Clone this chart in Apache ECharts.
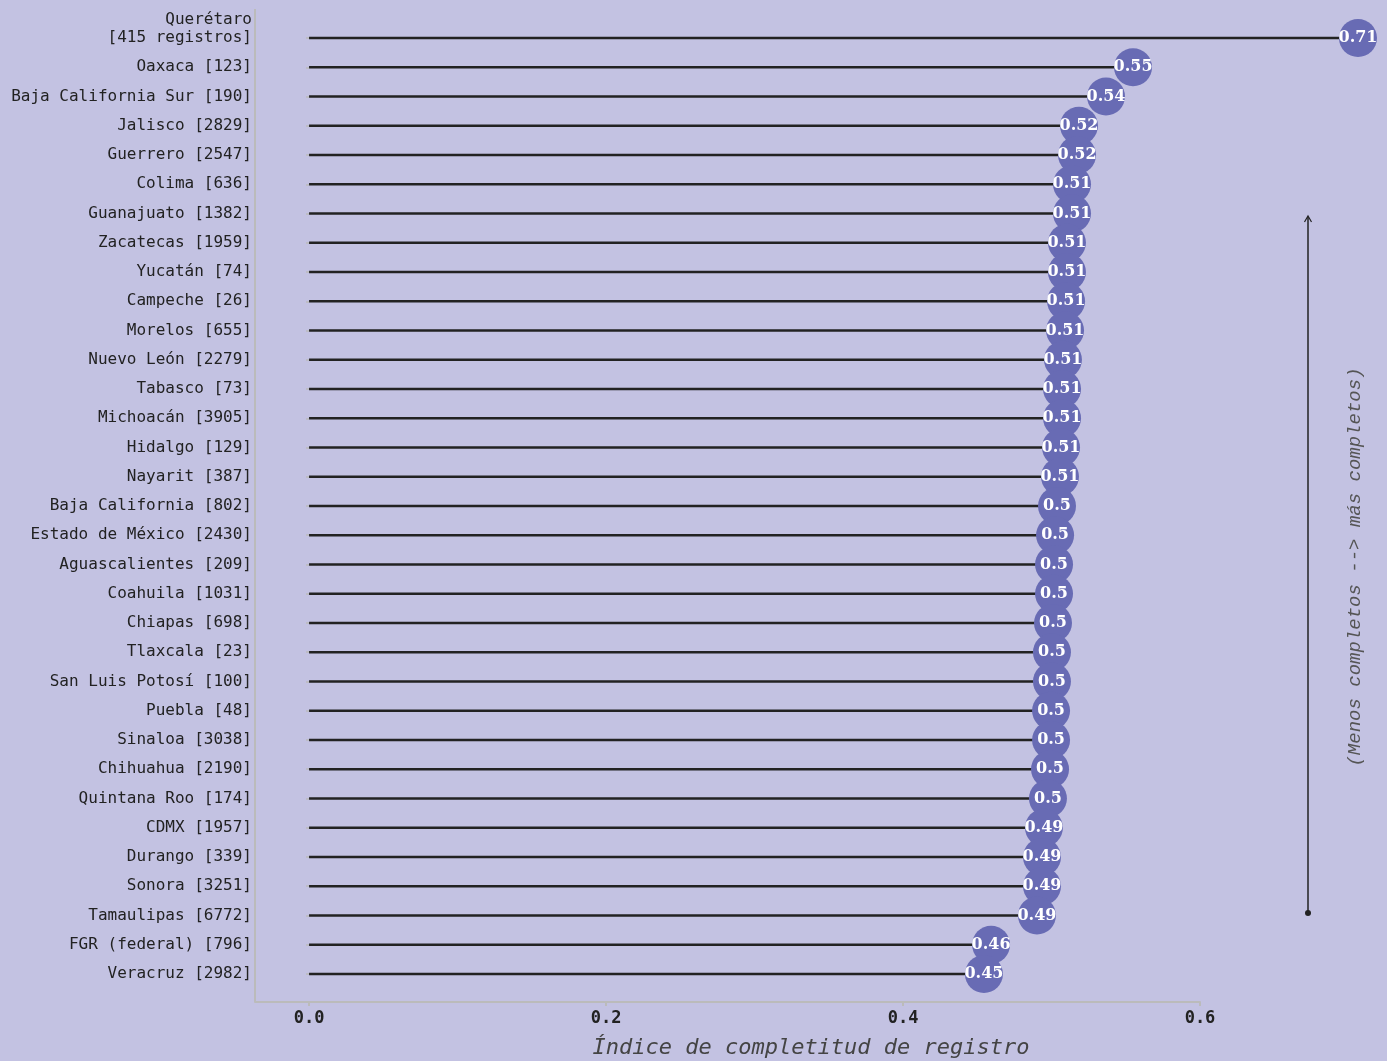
<!DOCTYPE html>
<html>
<head>
<meta charset="utf-8">
<script src="https://cdn.jsdelivr.net/npm/echarts@6/dist/echarts.min.js"></script>
<style>
html,body{margin:0;padding:0;background:#c3c2e2;}
#chart{width:1387px;height:1061px;}
</style>
</head>
<body>
<div id="chart"></div>
<script>
const categories = [
  'Querétaro\n[415 registros]', 'Oaxaca [123]', 'Baja California Sur [190]', 'Jalisco [2829]',
  'Guerrero [2547]', 'Colima [636]', 'Guanajuato [1382]', 'Zacatecas [1959]', 'Yucatán [74]',
  'Campeche [26]', 'Morelos [655]', 'Nuevo León [2279]', 'Tabasco [73]', 'Michoacán [3905]',
  'Hidalgo [129]', 'Nayarit [387]', 'Baja California [802]', 'Estado de México [2430]',
  'Aguascalientes [209]', 'Coahuila [1031]', 'Chiapas [698]', 'Tlaxcala [23]',
  'San Luis Potosí [100]', 'Puebla [48]', 'Sinaloa [3038]', 'Chihuahua [2190]',
  'Quintana Roo [174]', 'CDMX [1957]', 'Durango [339]', 'Sonora [3251]', 'Tamaulipas [6772]',
  'FGR (federal) [796]', 'Veracruz [2982]'
];
const values = [
  0.7064, 0.5549, 0.5367, 0.5185, 0.5172, 0.5138, 0.5138, 0.5104, 0.5104, 0.5098, 0.5091,
  0.5077, 0.5071, 0.5071, 0.5064, 0.5057, 0.5037, 0.5024, 0.5017, 0.5017, 0.5010, 0.5003,
  0.5003, 0.4997, 0.4997, 0.4990, 0.4976, 0.4949, 0.4936, 0.4936, 0.4902, 0.4593, 0.4545
];
const xTicks = [0, 0.2, 0.4, 0.6];
const xTitle = 'Índice de completitud de registro';
const sideNote = '(Menos completos --> más completos)';

const chart = echarts.init(document.getElementById('chart'));
const mono = '"DejaVu Sans Mono", "Liberation Mono", monospace';

chart.setOption({
  backgroundColor: '#c3c2e2',
  animation: false,
  grid: { left: 255, right: 187, top: 23.4, bottom: 72.4, containLabel: false },
  xAxis: {
    type: 'value',
    min: -0.0364,
    max: 0.6,
    offset: 13.4,
    splitLine: { show: false },
    axisLine: { show: true, lineStyle: { color: '#bbbbbb', width: 2 } },
    axisTick: { show: true, customValues: xTicks, length: 4, lineStyle: { color: '#bbbbbb', width: 2 } },
    axisLabel: {
      customValues: xTicks,
      formatter: v => Number(v).toFixed(1),
      fontFamily: mono, fontSize: 17, fontWeight: 'bold', color: '#222', margin: 8
    }
  },
  yAxis: {
    type: 'category',
    inverse: true,
    data: categories,
    axisLine: { show: false },
    axisTick: { show: true, alignWithLabel: true, interval: 0, length: 3, lineStyle: { color: '#bbbbbb', width: 1.5 } },
    axisLabel: {
      interval: 0, hideOverlap: false,
      fontFamily: mono, fontSize: 16, color: '#222', margin: 3, lineHeight: 18,
      formatter: v => v.indexOf('\n') >= 0 ? v + '\n' : v
    }
  },
  series: [
    {
      type: 'bar',
      data: values,
      barWidth: 2.5,
      clip: false,
      itemStyle: { color: '#222222' },
      silent: true
    },
    {
      type: 'scatter',
      data: values,
      symbol: 'circle',
      symbolSize: 38,
      clip: false,
      itemStyle: { color: '#686bb4', opacity: 1 },
      label: {
        show: true, position: 'inside',
        formatter: p => String(Number(p.value.toFixed(2))),
        fontFamily: '"DejaVu Serif", serif', fontWeight: 'bold', fontSize: 16, color: '#ffffff'
      }
    }
  ],
  graphic: [
    { type: 'line', shape: { x1: 255, y1: 9, x2: 255, y2: 1002 }, style: { stroke: '#bbbbbb', lineWidth: 2 }, z: 1 },
    { type: 'line', shape: { x1: 1308, y1: 913, x2: 1308, y2: 217 }, style: { stroke: '#222', lineWidth: 1.5 } },
    { type: 'polyline', shape: { points: [[1304.5, 222], [1308, 216], [1311.5, 222]] }, style: { stroke: '#222', lineWidth: 1.2, fill: null } },
    { type: 'circle', shape: { cx: 1308, cy: 913, r: 3 }, style: { fill: '#222' } },
    {
      type: 'text', x: 1355, y: 567, rotation: Math.PI / 2,
      style: {
        text: sideNote, fill: '#555555', fontFamily: '"Liberation Mono", monospace',
        fontStyle: 'italic', fontSize: 19, align: 'center', verticalAlign: 'middle'
      }
    },
    {
      type: 'text', x: 811, y: 1048,
      style: {
        text: xTitle, fill: '#444444', fontFamily: mono,
        fontStyle: 'italic', fontSize: 22, align: 'center', verticalAlign: 'middle'
      }
    }
  ]
});
</script>
</body>
</html>
